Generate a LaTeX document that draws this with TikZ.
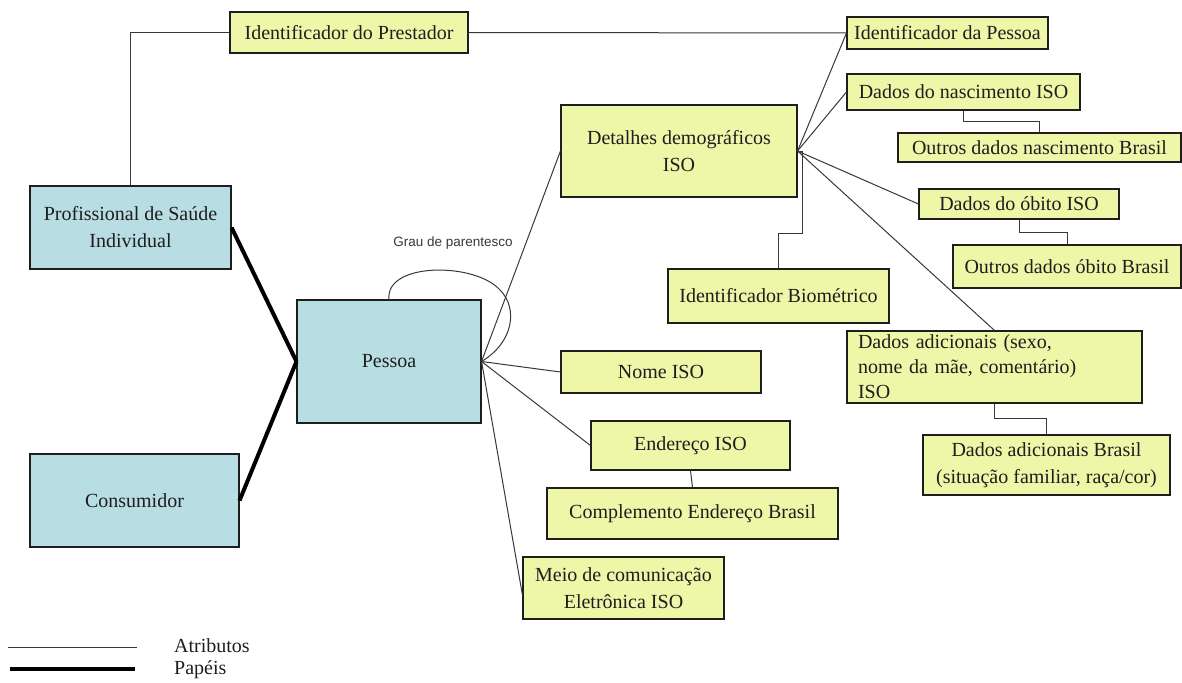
\documentclass[tikz,border=0pt]{standalone}
\usepackage{fontspec}
\setmainfont{Liberation Serif}
\newfontfamily\grausans{Liberation Sans}
\usepackage{tikz}
\definecolor{attrfill}{HTML}{EEF6A8}
\definecolor{rolefill}{HTML}{B8DDE3}
\definecolor{ink}{HTML}{1E1E1E}
\definecolor{wire}{HTML}{383838}
\tikzset{
  ebox/.style={draw=ink,line width=1.1pt,fill=attrfill,align=center,text=ink,font=\fontsize{20}{27}\selectfont,inner sep=2pt},
  pbox/.style={draw=ink,line width=1.1pt,fill=rolefill,align=center,text=ink,font=\fontsize{20}{27}\selectfont,inner sep=2pt},
  attr/.style={line width=1pt,color=wire},
  role/.style={line width=4pt,color=black},
  lbl/.style={font=\grausans\fontsize{13.5}{16}\selectfont,color=wire,inner sep=0pt},
  leg/.style={font=\fontsize{20}{24}\selectfont,text=ink,anchor=west,inner sep=0pt}}

\begin{document}
\begin{tikzpicture}[x=1pt,y=-1pt]
\useasboundingbox (0,0) rectangle (1182,682);
% entidades (papeis)
\node[pbox,minimum width=201pt,minimum height=83pt] (prof) at (130.5,227.5) {Profissional de Saúde\\Individual};
\node[pbox,minimum width=184pt,minimum height=123pt] (pes) at (389,361.5) {Pessoa};
\node[pbox,minimum width=209pt,minimum height=93pt] (cons) at (134.5,500.5) {Consumidor};
% atributos
\node[ebox,minimum width=238pt,minimum height=41pt] (prest) at (349,32.5) {Identificador do Prestador};
\node[ebox,minimum width=201pt,minimum height=32pt] (idpes) at (947.5,33) {Identificador da Pessoa};
\node[ebox,minimum width=236pt,minimum height=92pt] (det) at (679,151) {Detalhes demográficos\\ISO};
\node[ebox,minimum width=233pt,minimum height=36pt] (nasc) at (963.5,92) {Dados do nascimento ISO};
\node[ebox,minimum width=283pt,minimum height=29pt] (onasc) at (1039.5,147.5) {Outros dados nascimento Brasil};
\node[ebox,minimum width=200pt,minimum height=30pt] (obito) at (1019,204) {Dados do óbito ISO};
\node[ebox,minimum width=228pt,minimum height=43pt] (oobito) at (1067,266.5) {Outros dados óbito Brasil};
\node[ebox,minimum width=221pt,minimum height=54pt] (biom) at (778.5,296) {Identificador Biométrico};
\node[ebox,align=left,text width=273pt,inner xsep=11pt,minimum height=72pt,font=\fontsize{20}{25}\selectfont] (adic) at (994.5,367) {Dados adicionais (sexo,\\nome da mãe, comentário)\\ISO};
\node[ebox,minimum width=247pt,minimum height=60pt] (adbr) at (1046.5,465) {Dados adicionais Brasil\\(situação familiar, raça/cor)};
\node[ebox,minimum width=200pt,minimum height=42pt] (nome) at (661,372) {Nome ISO};
\node[ebox,minimum width=199pt,minimum height=49pt] (ender) at (690.5,445.5) {Endereço ISO};
\node[ebox,minimum width=291pt,minimum height=51pt] (compl) at (692.5,513.5) {Complemento Endereço Brasil};
\node[ebox,minimum width=201pt,minimum height=62pt] (meio) at (623.5,588) {Meio de comunicação\\Eletrônica ISO};
\node[lbl] (grau) at (453,243) {Grau de parentesco};
% ligacoes
\draw[attr] (prest.west) -| (prof.north); \draw[attr] (prest.east) -- (idpes.west);
\draw[role] (prof.east) -- (pes.west); \draw[role] (cons.east) -- (pes.west);
\draw[attr] (pes.north) .. controls (385,262) and (475,262) .. (500,290) .. controls (518,308) and (514,342) .. (pes.east);
\draw[attr] (pes.east) -- (det.west); \draw[attr] (pes.east) -- (nome.west); \draw[attr] (pes.east) -- (ender.west); \draw[attr] (pes.east) -- ([yshift=-7pt]meio.west);
\draw[attr] (ender.south) -- (compl.north);
\draw[attr] (det.east) -- (idpes.west); \draw[attr] (det.east) -- (nasc.west); \draw[attr] (det.east) -- (obito.west); \draw[attr] (det.east) -- (adic.north);
\draw[attr] (det.east) -- ++(5,0) -- ++(0,82) -| (biom.north);
\draw[attr] (nasc.south) -- ++(0,11) -| (onasc.north);
\draw[attr] (obito.south) -- ++(0,13) -| (oobito.north);
\draw[attr] (adic.south) -- ++(0,15) -| (adbr.north);
% legenda
\coordinate (la1) at (8,647); \coordinate (la2) at (137,647);
\coordinate (lp1) at (10,669); \coordinate (lp2) at (135,669);
\draw[attr] (la1) -- (la2); \draw[role] (lp1) -- (lp2);
\node[leg] (atr) at (174,646) {Atributos};
\node[leg] (pap) at (174,670) {Papéis};
\end{tikzpicture}
\end{document}
